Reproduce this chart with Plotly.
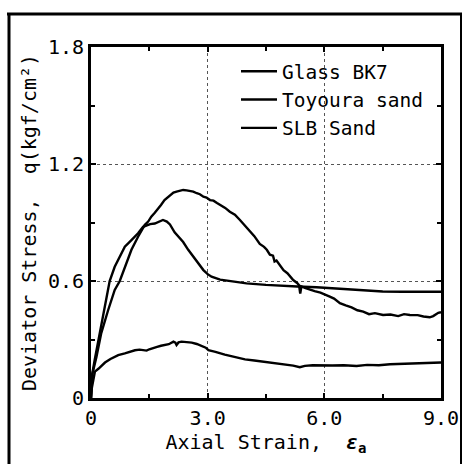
import plotly.graph_objects as go

# ---- data ----
glass_x = [0, 0.03, 0.095, 0.26, 0.39, 0.48, 0.61, 0.78, 0.87, 1.04, 1.21, 1.34, 1.45, 1.52, 1.64,
           1.75, 1.85, 1.95, 2.03, 2.15, 2.24, 2.37, 2.5, 2.63, 2.76, 2.89, 3.0, 3.1, 3.32, 3.6, 4.0,
           4.5, 4.86, 5.3, 5.8, 6.23, 6.7, 7.09, 7.5, 8.0, 8.5, 9.0]
glass_y = [0, 0.12, 0.195, 0.366, 0.50, 0.60, 0.673, 0.742, 0.776, 0.81, 0.845, 0.878, 0.885, 0.892,
           0.895, 0.905, 0.913, 0.905, 0.89, 0.85, 0.83, 0.80, 0.76, 0.725, 0.69, 0.656,
           0.635, 0.622, 0.607, 0.598, 0.588, 0.58, 0.575, 0.572, 0.568, 0.563, 0.556, 0.55, 0.546,
           0.545, 0.544, 0.545]

toyoura_x = [0, 0.03, 0.14, 0.26, 0.44, 0.61, 0.74, 0.87, 1.04, 1.21, 1.38, 1.47, 1.55, 1.64, 1.72,
             1.8, 1.89, 1.97, 2.04, 2.12, 2.2, 2.29, 2.37, 2.46, 2.55, 2.63, 2.72, 2.8, 2.89, 2.97,
             3.06, 3.15, 3.24, 3.32, 3.45, 3.57, 3.7, 3.83, 3.96, 4.09, 4.2, 4.34, 4.45, 4.52, 4.6,
             4.68, 4.72, 4.77, 4.86, 4.95, 5.05, 5.2, 5.3, 5.35, 5.38, 5.41, 5.5, 5.63, 5.75, 5.9,
             6.05, 6.14, 6.25, 6.4, 6.55, 6.7, 6.85, 7.0, 7.15, 7.3, 7.51, 7.7, 7.9, 8.05, 8.2, 8.4,
             8.55, 8.71, 8.8, 8.93, 9.0]
toyoura_y = [0, 0.12, 0.21, 0.33, 0.45, 0.554, 0.60, 0.673, 0.76, 0.827, 0.887, 0.905, 0.93, 0.95,
             0.973, 0.99, 1.015, 1.03, 1.04, 1.053, 1.058, 1.063, 1.067, 1.065, 1.062, 1.058, 1.05,
             1.045, 1.032, 1.028, 1.015, 1.012, 1.0, 0.99, 0.975, 0.955, 0.94, 0.913, 0.885, 0.853,
             0.83, 0.79, 0.775, 0.76, 0.735, 0.73, 0.70, 0.705, 0.68, 0.655, 0.64, 0.605, 0.59,
             0.578, 0.535, 0.572, 0.565, 0.555, 0.548, 0.54, 0.525, 0.52, 0.51, 0.486, 0.475, 0.465,
             0.45, 0.443, 0.43, 0.435, 0.426, 0.428, 0.42, 0.43, 0.426, 0.425, 0.418, 0.414, 0.42,
             0.437, 0.44]

slb_x = [0, 0.02, 0.06, 0.1, 0.19, 0.36, 0.5, 0.7, 0.87, 1.0, 1.13, 1.25, 1.35, 1.43, 1.5, 1.57, 1.7,
         1.8, 1.9, 2.0, 2.12, 2.17, 2.2, 2.25, 2.33, 2.45, 2.59, 2.72, 2.84, 2.95, 3.02, 3.2, 3.44,
         3.7, 3.96, 4.2, 4.47, 4.73, 5.0, 5.2, 5.37, 5.5, 5.7, 5.89, 6.2, 6.5, 6.83, 7.1, 7.4, 7.69,
         8.0, 8.3, 8.6, 8.89, 9.0]
slb_y = [0, 0.05, 0.092, 0.135, 0.15, 0.182, 0.2, 0.22, 0.229, 0.238, 0.245, 0.248, 0.245, 0.243,
         0.25, 0.253, 0.262, 0.268, 0.272, 0.276, 0.289, 0.284, 0.272, 0.285, 0.289, 0.288, 0.284,
         0.277, 0.267, 0.258, 0.245, 0.237, 0.222, 0.21, 0.198, 0.192, 0.186, 0.178, 0.172, 0.166,
         0.158, 0.165, 0.168, 0.169, 0.167, 0.168, 0.164, 0.17, 0.168, 0.173, 0.175, 0.174, 0.178,
         0.181, 0.182]

series_names = ["Glass BK7", "Toyoura sand", "SLB Sand"]

x_tickvals = [0, 3, 6, 9]
x_ticktext = ["0", "3.0", "6.0", "9.0"]
y_tickvals = [0, 0.6, 1.2, 1.8]
y_ticktext = ["0", "0.6", "1.2", "1.8"]

FONT = "DejaVu Sans Mono"

fig = go.Figure()
for name, xs, ys in [(series_names[0], glass_x, glass_y),
                     (series_names[1], toyoura_x, toyoura_y),
                     (series_names[2], slb_x, slb_y)]:
    fig.add_trace(go.Scatter(x=xs, y=ys, mode="lines", name=name,
                             line=dict(color="black", width=2.4)))

W, H = 463, 464
L, R, T, B = 91, 441, 47, 398   # plot area in pixels


def px(xp):
    return (xp - L) / (R - L)


def py(yp):
    return (B - yp) / (B - T)


axis_common = dict(
    showline=True, linecolor="black", linewidth=3, mirror="allticks",
    ticks="inside", ticklen=5, tickwidth=2, tickcolor="black",
    showgrid=True, gridcolor="#555555", griddash="dot", gridwidth=1,
    zeroline=False,
    tickfont=dict(family=FONT, size=20, color="black"),
    minor=dict(ticks="inside", ticklen=4, tickwidth=2, tickcolor="black", showgrid=False),
)

fig.update_xaxes(range=[0, 9], tickvals=x_tickvals, ticktext=x_ticktext,
                 minor_dtick=1.5, **axis_common,
                 title=dict(text="Axial Strain,  <b><i>ε</i></b><sub><b>a</b></sub>",
                            font=dict(family=FONT, size=20, color="black"), standoff=6))
fig.update_yaxes(range=[0, 1.8], tickvals=y_tickvals, ticktext=y_ticktext,
                 minor_dtick=0.3, **axis_common,
                 title=dict(text="Deviator Stress,  q(kgf/cm²)",
                            font=dict(family=FONT, size=20, color="black"), standoff=6))

fig.update_layout(
    width=W, height=H,
    margin=dict(l=L, r=W - R, t=T, b=H - B, autoexpand=False),
    paper_bgcolor="white", plot_bgcolor="white",
    showlegend=True,
    legend=dict(x=px(236), y=py(52), xanchor="left", yanchor="top",
                bgcolor="rgba(0,0,0,0)", borderwidth=0, itemwidth=36,
                tracegroupgap=0,
                font=dict(family=FONT, size=19.5, color="black")),
    shapes=[
        dict(type="line", xref="paper", yref="paper", x0=px(7), x1=px(462), y0=py(14), y1=py(14),
             line=dict(color="black", width=3)),
        dict(type="line", xref="paper", yref="paper", x0=px(9), x1=px(9), y0=py(13), y1=py(470),
             line=dict(color="black", width=3)),
        dict(type="line", xref="paper", yref="paper", x0=px(461), x1=px(461), y0=py(13), y1=py(470),
             line=dict(color="black", width=2)),
    ],
)

fig.write_html("out.html",
               config={"displayModeBar": False},
               post_script="document.body.style.margin='0px';document.body.style.overflow='hidden';")
